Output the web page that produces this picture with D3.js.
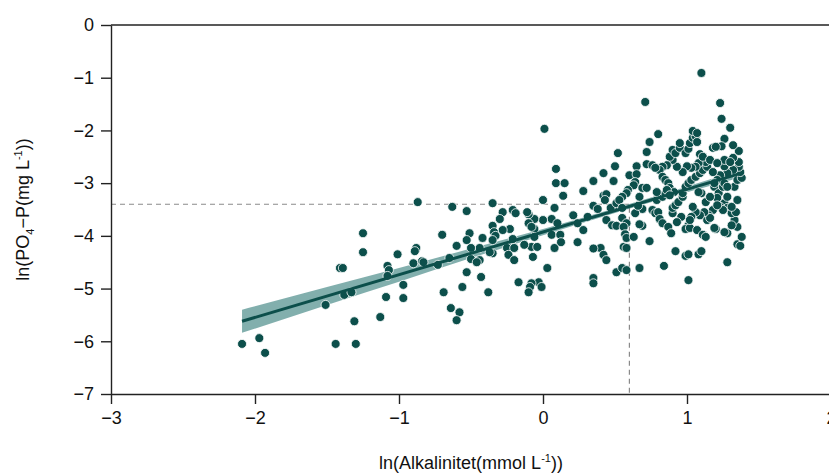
<!DOCTYPE html>
<html>
<head>
<meta charset="utf-8">
<script src="https://cdn.jsdelivr.net/npm/d3@7"></script>
<style>
  body { margin: 0; background: #fff; }
  svg { display: block; font-family: "Liberation Sans", Arial, sans-serif; }
</style>
</head>
<body>
<svg id="canvas" width="829" height="474"></svg>
<script>
// ln(alkalinity) vs ln(PO4-P)
let xs = [
  -2.09,-1.97,-1.93,-1.44,-1.30,-1.31,-1.51,-1.38,-1.33,-1.41,-1.39,-1.25,-1.25,-1.13,-1.09,-1.08,-1.07,-1.08,-0.97,-0.97,
  -1.01,-0.88,-0.89,-0.90,-0.84,-0.87,0.01,0.09,0.09,0.15,0.14,0.00,0.28,0.35,0.42,0.49,0.50,0.52,0.42,0.44,
  0.43,0.35,0.38,0.49,0.47,0.51,0.31,0.21,0.24,0.28,0.24,0.44,0.48,0.51,0.40,0.42,0.44,0.51,0.35,0.35,
  0.08,0.06,0.10,0.06,0.12,0.08,0.00,-0.06,-0.10,-0.10,-0.11,-0.06,-0.08,-0.06,-0.08,-0.13,-0.04,-0.07,0.03,-0.03,
  -0.08,-0.09,-0.10,-0.01,-0.17,-0.21,-0.19,-0.28,-0.30,-0.23,-0.28,-0.21,-0.25,-0.20,-0.24,-0.20,-0.35,-0.35,-0.34,-0.33,
  -0.35,-0.35,-0.37,-0.42,-0.44,-0.50,-0.51,-0.53,-0.50,-0.44,-0.46,-0.53,-0.63,-0.70,-0.60,-0.65,-0.73,-0.83,-0.53,-0.43,
  -0.56,-0.38,-0.69,-0.64,-0.58,-0.60,0.125,0.35,0.80,0.74,0.72,0.60,0.65,0.65,0.72,0.76,0.64,0.63,0.59,0.58,
  0.55,0.53,0.55,0.55,0.58,0.56,0.57,0.58,0.63,0.56,0.58,0.55,0.58,0.67,0.74,0.69,0.69,0.64,0.67,0.69,
  0.72,0.76,0.78,0.80,0.79,0.83,0.85,0.81,0.83,0.87,0.89,0.84,0.92,0.99,1.01,1.08,1.10,1.01,1.28,1.35,
  1.37,1.38,1.35,1.33,1.28,1.31,1.20,1.35,1.33,1.35,1.38,1.37,1.36,1.32,1.36,1.32,1.36,1.32,1.26,1.24,
  1.18,1.20,1.28,1.26,1.23,1.21,1.19,1.22,1.21,1.26,1.28,1.31,1.23,1.18,1.15,1.13,1.10,1.08,1.14,1.16,
  1.12,1.09,1.06,1.04,1.03,1.01,0.99,1.02,0.96,0.93,0.90,0.90,0.92,0.94,0.97,0.97,0.99,1.01,1.03,1.06,
  1.09,1.11,1.14,1.13,1.08,1.06,1.03,1.00,0.97,0.93,0.90,0.88,0.90,0.92,0.95,0.95,0.99,1.01,1.02,1.04,
  1.06,1.04,1.07,1.07,1.09,1.11,1.16,0.86,0.83,0.81,0.83,0.85,0.87,0.88,0.91,1.10,1.23,1.24,1.30,0.71,
  1.34,1.07,1.11,1.02,1.19,1.26,1.25,1.31,1.21,1.16,1.25,1.26,1.28,1.26,1.30,1.21,1.18,1.28,1.19,0.78,
  0.66,1.13,0.79,0.86,0.88,0.67
]
let ys = [
  -6.05,-5.94,-6.22,-6.05,-6.05,-5.62,-5.31,-5.12,-5.07,-4.61,-4.61,-3.95,-4.31,-5.54,-5.16,-4.57,-4.65,-4.76,-5.18,-4.93,
  -4.35,-4.23,-4.29,-4.52,-4.48,-3.36,-1.97,-2.73,-3.00,-3.00,-3.24,-3.32,-3.15,-2.96,-2.81,-2.96,-2.68,-2.43,-3.24,-3.21,
  -3.32,-3.43,-3.49,-3.45,-3.47,-3.38,-3.64,-3.61,-3.76,-3.89,-4.12,-3.70,-3.80,-3.81,-4.23,-4.36,-4.46,-4.69,-4.80,-4.90,
  -3.47,-3.68,-3.76,-3.98,-3.98,-4.23,-3.70,-3.68,-3.59,-3.76,-3.55,-3.87,-3.83,-4.02,-4.21,-4.17,-4.21,-4.40,-4.61,-4.88,
  -4.90,-4.97,-5.07,-4.97,-4.88,-3.51,-3.57,-3.55,-3.68,-3.87,-3.89,-4.06,-4.23,-4.23,-4.36,-4.46,-3.38,-3.81,-3.93,-4.00,
  -4.08,-4.33,-4.31,-4.04,-4.23,-4.23,-3.95,-4.08,-4.44,-4.46,-4.50,-3.53,-3.45,-3.98,-4.19,-4.42,-4.55,-4.50,-4.69,-4.78,
  -4.97,-5.07,-5.07,-5.37,-5.45,-5.60,-4.12,-4.24,-2.07,-2.22,-2.41,-2.85,-2.68,-2.83,-2.64,-2.66,-2.98,-3.04,-3.13,-3.19,
  -3.26,-3.32,-3.47,-3.66,-3.76,-3.83,-3.97,-4.04,-4.02,-4.21,-4.23,-4.61,-4.65,-4.61,-4.10,-3.81,-3.49,-3.57,-3.26,-3.09,
  -3.09,-3.51,-3.57,-3.55,-3.32,-3.26,-3.19,-3.68,-3.76,-3.83,-3.95,-4.57,-4.29,-4.38,-4.35,-4.35,-4.29,-4.84,-4.50,-4.16,
  -4.19,-4.02,-3.83,-3.70,-3.95,-3.80,-3.87,-3.32,-3.07,-2.94,-2.90,-2.79,-2.69,-2.75,-2.60,-2.52,-2.39,-2.28,-2.16,-2.30,
  -2.33,-2.31,-2.81,-2.68,-2.85,-2.94,-3.07,-3.19,-3.28,-3.38,-3.47,-3.57,-3.45,-3.51,-3.61,-3.36,-3.19,-3.17,-3.70,-3.66,
  -3.55,-3.61,-3.55,-3.45,-3.64,-3.80,-3.87,-3.85,-3.64,-3.74,-3.57,-3.47,-3.42,-3.36,-3.26,-3.19,-3.07,-3.00,-2.94,-2.88,
  -2.81,-2.75,-2.69,-2.60,-2.62,-2.69,-2.71,-2.68,-2.79,-2.69,-2.56,-2.50,-2.37,-2.43,-2.33,-2.24,-2.43,-2.35,-2.24,-2.14,
  -2.11,-2.01,-2.05,-2.22,-2.45,-2.50,-2.56,-2.66,-2.69,-2.75,-2.88,-2.94,-3.00,-3.09,-3.17,-0.91,-1.48,-1.78,-1.95,-1.46,
  -3.55,-3.89,-3.98,-3.70,-3.85,-3.93,-3.51,-3.45,-3.42,-3.26,-3.07,-3.00,-3.07,-2.56,-2.60,-2.62,-2.79,-3.26,-3.00,-2.71,
  -3.43,-4.02,-3.17,-3.13,-3.23,-3.78
]

// fitted line and its confidence band
let lineX = [-2.09, 1.39]
let lineY = [-5.62, -2.80]
let bandX  = [-2.09, -1.5, -1.0, -0.5, 0, 0.5, 1.0, 1.39]
let bandLo = [-5.84, -5.31, -4.87, -4.42, -3.99, -3.565, -3.175, -2.88]
let bandHi = [-5.40, -4.97, -4.61, -4.24, -3.87, -3.475, -3.065, -2.72]

// reference cross at the fitted value
let refX = 0.6
let refY = -3.4

let xTicks = [-3, -2, -1, 0, 1, 2]
let yTicks = [0, -1, -2, -3, -4, -5, -6, -7]

let canvas = d3.select('#canvas')

let x = d3.scaleLinear().domain([-3, 2]).range([111, 831])
let y = d3.scaleLinear().domain([-7, 0]).range([394, 25])

let teal = '#0c4f4b'
let fmt = d3.format('d')

// dashed guides
canvas.append('path')
  .attr('d', 'M' + x(-3) + ',' + y(refY) + 'H' + x(refX) + 'V' + y(-7))
  .attr('fill', 'none')
  .attr('stroke', '#8a8a8a')
  .attr('stroke-width', 1.2)
  .attr('stroke-dasharray', '5,4')

// band
let band = bandX.map((d, i) => ({x: d, lo: bandLo[i], hi: bandHi[i]}))
canvas.append('path')
  .datum(band)
  .attr('d', d3.area()
    .x(d => x(d.x))
    .y0(d => y(d.lo))
    .y1(d => y(d.hi))
    .curve(d3.curveMonotoneX))
  .attr('fill', '#2f7a76')
  .attr('opacity', 0.6)

// points
canvas.append('g')
  .selectAll('circle')
  .data(xs.map((d, i) => [d, ys[i]]))
  .enter()
  .append('circle')
  .attr('cx', d => x(d[0]))
  .attr('cy', d => y(d[1]))
  .attr('r', 4.5)
  .attr('fill', teal)
  .attr('stroke', '#ffffff')
  .attr('stroke-width', 0.8)

// fitted line
canvas.append('path')
  .datum(lineX.map((d, i) => [d, lineY[i]]))
  .attr('d', d3.line().x(d => x(d[0])).y(d => y(d[1])))
  .attr('fill', 'none')
  .attr('stroke', teal)
  .attr('stroke-width', 3)

// axes
let styleAxis = g => {
  g.selectAll('.domain').attr('stroke', '#222').attr('stroke-width', 1.4)
  g.selectAll('.tick line').attr('stroke', '#222').attr('stroke-width', 1.4)
  g.selectAll('.tick text')
    .attr('fill', '#111')
    .style('font-size', '18px')
    .style('font-family', '"Liberation Sans", Arial, sans-serif')
}

canvas.append('g')
  .attr('transform', 'translate(0,' + y(-7) + ')')
  .call(d3.axisBottom(x).tickValues(xTicks).tickFormat(fmt).tickSize(10).tickSizeOuter(0).tickPadding(7))
  .call(styleAxis)

canvas.append('g')
  .attr('transform', 'translate(' + x(-3) + ',0)')
  .call(d3.axisLeft(y).tickValues(yTicks).tickFormat(fmt).tickSize(10).tickSizeOuter(0).tickPadding(7))
  .call(styleAxis)

// top border
canvas.append('line')
  .attr('x1', x(-3)).attr('x2', x(2))
  .attr('y1', y(0)).attr('y2', y(0))
  .attr('stroke', '#222')
  .attr('stroke-width', 1.4)

// axis titles
let xt = canvas.append('text')
  .attr('x', (x(-3) + x(2)) / 2)
  .attr('y', 469)
  .attr('text-anchor', 'middle')
  .attr('fill', '#111')
  .style('font-size', '18px')
xt.append('tspan').text('ln(Alkalinitet(mmol L')
xt.append('tspan').attr('dy', -7).style('font-size', '11px').text('-1')
xt.append('tspan').attr('dy', 7).text('))')

let yt = canvas.append('text')
  .attr('transform', 'translate(29,' + (y(0) + y(-7)) / 2 + ') rotate(-90)')
  .attr('text-anchor', 'middle')
  .attr('fill', '#111')
  .style('font-size', '18px')
yt.append('tspan').text('ln(PO')
yt.append('tspan').attr('dy', 5).style('font-size', '11px').text('4')
yt.append('tspan').attr('dy', -5).text('−P(mg L')
yt.append('tspan').attr('dy', -7).style('font-size', '11px').text('-1')
yt.append('tspan').attr('dy', 7).text('))')
</script>
</body>
</html>
